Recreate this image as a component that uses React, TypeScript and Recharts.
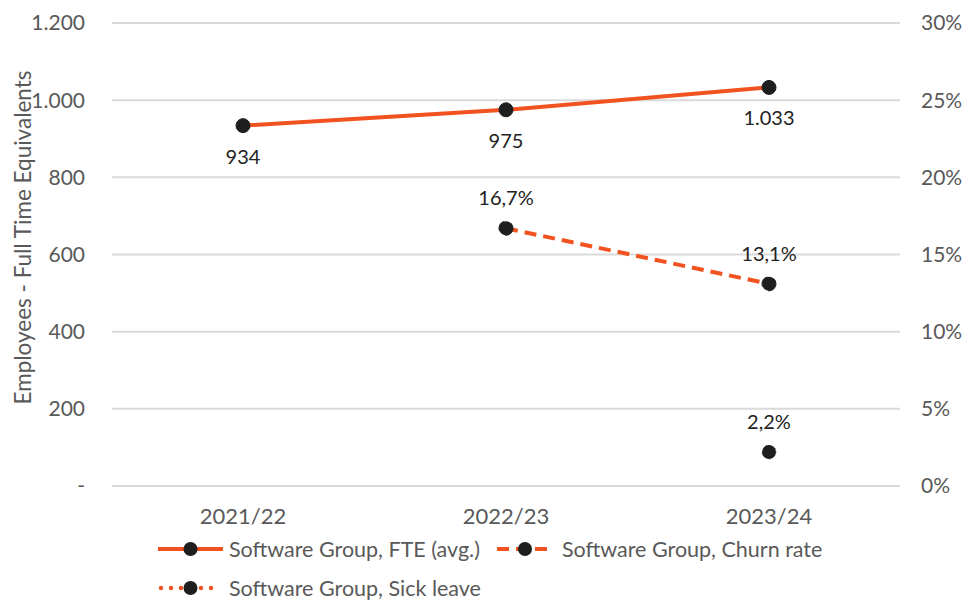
import React from 'react'
import {
  CartesianGrid,
  Legend,
  Line,
  LineChart,
  LabelList,
  XAxis,
  YAxis,
} from 'recharts'

const years = ['2021/22', '2022/23', '2023/24']
const fte = [934, 975, 1033]
const churn = [null, 16.7, 13.1]
const sickLeave = [null, null, 2.2]

const leftTicks = [0, 200, 400, 600, 800, 1000, 1200]
const rightTicks = [0, 5, 10, 15, 20, 25, 30]

const seriesNames = [
  'Software Group, FTE (avg.)',
  'Software Group, Churn rate',
  'Software Group, Sick leave',
]

const data = years.map((year, i) => ({
  year,
  fte: fte[i],
  churn: churn[i],
  sick: sickLeave[i],
}))

const ORANGE = '#F2521F'
const DOT = '#1E1E1E'
const GRAY = '#595959'
const FONT = 'Lato, "Open Sans", sans-serif'

const fmtThousands = (v: number) =>
  v === 0 ? '-' : v.toString().replace(/\B(?=(\d{3})+(?!\d))/g, '.')
const fmtPct = (v: number) => `${v.toString().replace('.', ',')}%`

const dot = { r: 7, fill: DOT, stroke: DOT, strokeWidth: 1 }

const labelBelow = (props: any) => {
  const { x, y, value } = props
  if (value == null) return null
  return (
    <text x={x} y={y + 38} textAnchor="middle" fill="#222" fontSize={20} fontFamily={FONT}>
      {fmtThousands(value)}
    </text>
  )
}

const labelAbove = (props: any) => {
  const { x, y, value } = props
  if (value == null) return null
  return (
    <text x={x} y={y - 23} textAnchor="middle" fill="#222" fontSize={20} fontFamily={FONT}>
      {fmtPct(value)}
    </text>
  )
}

const LegendIcon = ({ dash, w }: { dash?: string; w: number }) => (
  <svg width={w} height={20} style={{ display: 'block', flex: 'none' }}>
    <line
      x1={dash === 'dot' ? 3 : 0}
      x2={dash === 'dot' ? w - 3 : w}
      y1={10}
      y2={10}
      stroke={ORANGE}
      strokeWidth={dash === 'dot' ? 4.5 : 4}
      strokeDasharray={dash === 'dash' ? '12 7' : dash === 'dot' ? '0 10' : undefined}
      strokeLinecap={dash === 'dot' ? 'round' : 'butt'}
    />
    <circle cx={w / 2} cy={10} r={7} fill={DOT} />
  </svg>
)

const LegendItem = ({
  name,
  dash,
  width,
  iconW,
  gap,
}: {
  name: string
  dash?: string
  width?: number
  iconW: number
  gap: number
}) => (
  <div style={{ display: 'flex', alignItems: 'center', width, height: 24 }}>
    <LegendIcon dash={dash} w={iconW} />
    <span style={{ marginLeft: gap, color: GRAY, fontSize: 21.5, fontFamily: FONT, whiteSpace: 'nowrap' }}>
      {name}
    </span>
  </div>
)

const renderLegend = () => (
  <div style={{ height: 63, paddingLeft: 158, boxSizing: 'border-box' }}>
    <div style={{ display: 'flex', height: 24 }}>
      <LegendItem name={seriesNames[0]} width={339} iconW={65} gap={6} />
      <LegendItem name={seriesNames[1]} dash="dash" iconW={56} gap={9} />
    </div>
    <div style={{ height: 15 }} />
    <LegendItem name={seriesNames[2]} dash="dot" iconW={65} gap={6} />
  </div>
)

export default function App() {
  return (
    <div style={{ position: 'absolute', left: 0, top: 0, background: '#fff' }}>
      <LineChart
        width={966}
        height={600}
        data={data}
        margin={{ top: 23, right: 0, bottom: 0, left: 0 }}
      >
        <CartesianGrid
          vertical={false}
          yAxisId="left"
          stroke="#DADADA"
          strokeWidth={2}
        />
        <XAxis
          dataKey="year"
          axisLine={false}
          tickLine={false}
          tickSize={0}
          tickMargin={22}
          height={51}
          padding={{ left: 131, right: 131 }}
          tick={{ fill: GRAY, fontSize: 22, fontFamily: FONT }}
        />
        <YAxis
          yAxisId="left"
          orientation="left"
          width={112}
          domain={[0, 1200]}
          ticks={leftTicks}
          tickFormatter={fmtThousands}
          axisLine={false}
          tickLine={false}
          tickSize={0}
          tickMargin={27}
          tick={{ fill: GRAY, fontSize: 21, fontFamily: FONT }}
          label={{
            value: 'Employees - Full Time Equivalents',
            angle: -90,
            position: 'insideLeft',
            dx: 18,
            dy: -17,
            fill: GRAY,
            fontSize: 22.5,
            fontFamily: FONT,
            style: { textAnchor: 'middle' },
          }}
        />
        <YAxis
          yAxisId="right"
          orientation="right"
          width={66}
          domain={[0, 30]}
          ticks={rightTicks}
          tickFormatter={(v: number) => `${v}%`}
          axisLine={false}
          tickLine={false}
          tickSize={0}
          tickMargin={21}
          tick={{ fill: GRAY, fontSize: 21, fontFamily: FONT, textAnchor: 'start' }}
        />
        <Legend verticalAlign="bottom" content={renderLegend} />
        <Line
          yAxisId="left"
          dataKey="fte"
          name={seriesNames[0]}
          stroke={ORANGE}
          strokeWidth={4}
          dot={dot}
          activeDot={false}
          isAnimationActive={false}
        >
          <LabelList dataKey="fte" content={labelBelow} />
        </Line>
        <Line
          yAxisId="right"
          dataKey="churn"
          name={seriesNames[1]}
          stroke={ORANGE}
          strokeWidth={4}
          strokeDasharray="12 7"
          dot={dot}
          activeDot={false}
          isAnimationActive={false}
        >
          <LabelList dataKey="churn" content={labelAbove} />
        </Line>
        <Line
          yAxisId="right"
          dataKey="sick"
          name={seriesNames[2]}
          stroke={ORANGE}
          strokeWidth={4}
          strokeDasharray="0 10"
          strokeLinecap="round"
          dot={dot}
          activeDot={false}
          isAnimationActive={false}
        >
          <LabelList dataKey="sick" content={labelAbove} />
        </Line>
      </LineChart>
    </div>
  )
}
